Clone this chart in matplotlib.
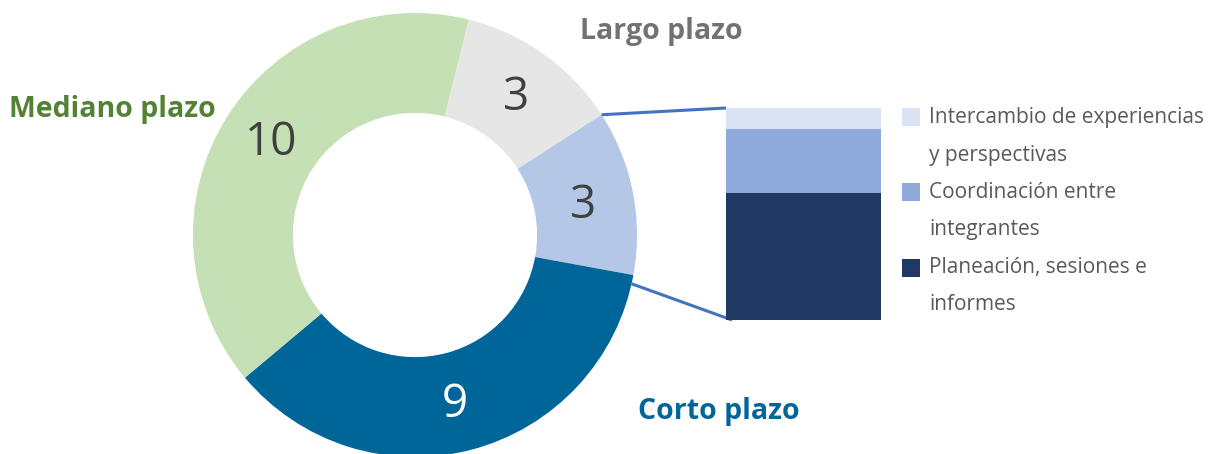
import matplotlib.pyplot as plt
import numpy as np

plt.rcParams['font.family'] = ['Open Sans', 'DejaVu Sans']

# donut data (clockwise from the top-right)
plazos = ['Largo plazo', 'Desglose', 'Corto plazo', 'Mediano plazo']
plazo_vals = [3, 3, 9, 10]
plazo_colors = ['#E7E6E6', '#B4C7E7', '#00669A', '#C5E0B4']
num_colors = ['#404040', '#404040', '#FFFFFF', '#404040']

# breakdown of the light-blue slice
breakdown = ['Planeación, sesiones e\ninformes',
             'Coordinación entre\nintegrantes',
             'Intercambio de experiencias\ny perspectivas']
breakdown_vals = [1.8, 0.9, 0.3]
breakdown_colors = ['#203864', '#8FAADC', '#DAE3F3']

W, H = 1228, 454
fig = plt.figure(figsize=(W / 100, H / 100), dpi=100)

# main axes in pixel coordinates (y up)
ax = fig.add_axes([0, 0, 1, 1])
cx, cy, R = 415, H - 235, 222
start = 76
ax.pie(plazo_vals, colors=plazo_colors, startangle=start,
       counterclock=False, center=(cx, cy), radius=R,
       wedgeprops=dict(width=R * 0.45, linewidth=0), frame=True)
ax.set_xlim(0, W)
ax.set_ylim(0, H)
ax.set_aspect('equal')
ax.axis('off')

# numbers in the ring (label positions, pixels from top-left)
num_pos = [(516, 98), (583, 206), (455, 405), (271, 143)]
for v, c, (px, py) in zip(plazo_vals, num_colors, num_pos):
    ax.text(px, H - py, str(v), ha='center', va='center', fontsize=33, color=c)

# category labels
ax.text(661, H - 31, 'Largo plazo', ha='center', va='center', fontsize=20.5,
        fontweight='bold', color='#767171')
ax.text(112, H - 109, 'Mediano plazo', ha='center', va='center', fontsize=20.5,
        fontweight='bold', color='#548235')
ax.text(719, H - 411, 'Corto plazo', ha='center', va='center', fontsize=20.5,
        fontweight='bold', color='#00669A')

# stacked bar
bx0, bx1, by0, by1 = 726, 881, H - 320, H - 108
bax = fig.add_axes([bx0 / W, by0 / H, (bx1 - bx0) / W, (by1 - by0) / H])
bottom = 0
for v, c in zip(breakdown_vals, breakdown_colors):
    bax.bar(0, v, bottom=bottom, width=1, color=c, linewidth=0)
    bottom += v
bax.set_xlim(-0.5, 0.5)
bax.set_ylim(0, sum(breakdown_vals))
bax.axis('off')

# connector lines from the light-blue slice to the bar
total = sum(plazo_vals)
a1 = np.radians(start - plazo_vals[0] / total * 360)
a2 = np.radians(start - sum(plazo_vals[:2]) / total * 360) - 0.04
ax.plot([cx + R * np.cos(a1), bx0], [cy + R * np.sin(a1), by1],
        color='#4472C4', lw=2.2, solid_capstyle='butt')
ax.plot([cx + R * np.cos(a2), bx0 + 6], [cy + R * np.sin(a2), by0],
        color='#4472C4', lw=2.2, solid_capstyle='butt')

# legend
lx = 902
line_y = [117, 155, 192, 230, 268, 305]
for i, (lab, c) in enumerate(zip(breakdown[::-1], breakdown_colors[::-1])):
    y1, y2 = line_y[2 * i], line_y[2 * i + 1]
    ax.add_patch(plt.Rectangle((lx, H - y1 - 9), 18, 18, color=c, lw=0))
    l1, l2 = lab.split('\n')
    ax.text(lx + 27, H - y1, l1, ha='left', va='center', fontsize=15, color='#595959')
    ax.text(lx + 27, H - y2, l2, ha='left', va='center', fontsize=15, color='#595959')

fig.savefig('out.png', dpi=100)
